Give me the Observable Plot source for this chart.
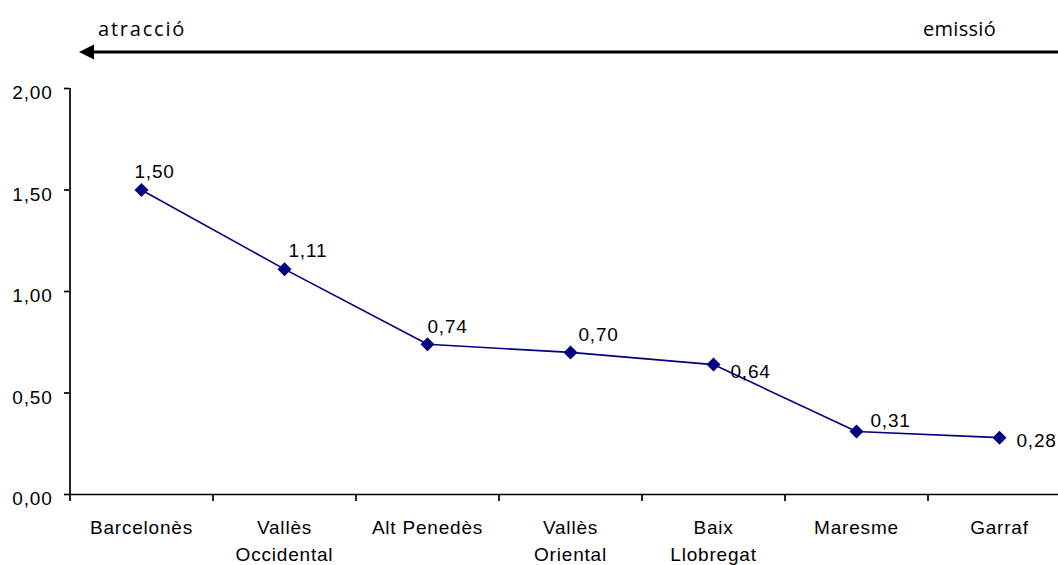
<!DOCTYPE html>
<html><head><meta charset="utf-8">
<script src="https://cdn.jsdelivr.net/npm/d3@7"></script>
<script src="https://cdn.jsdelivr.net/npm/@observablehq/plot@0.6"></script>
<style>
html,body{margin:0;padding:0;background:#fff;overflow:hidden;}
</style></head><body><div id="chart"></div>
<script>
const categories = ["Barcelonès","Vallès\nOccidental","Alt Penedès","Vallès\nOriental","Baix\nLlobregat","Maresme","Garraf"];
const values = [1.50, 1.11, 0.74, 0.70, 0.64, 0.31, 0.28];
const yTicks = [0, 0.5, 1, 1.5, 2];
const arrowLabels = ["atracció", "emissió"];
// label placement (dx, dy) per point, style only
const labelOffsets = [[-7,-12],[4,-12],[0,-11],[8,-11],[17,13],[14,-5],[17,9]];

const data = values.map((v, i) => ({i, cat: categories[i], v}));
const fmt = d => d.toFixed(2).replace(".", ",");
const font = "'Liberation Sans', Arial, sans-serif";
const navy = "#000080";

const arrowMark = (index, scales, vals, dims) => {
  const g = d3.create("svg:g");
  const y = 52;
  g.append("line").attr("x1", 90).attr("x2", dims.width + 5)
    .attr("y1", y).attr("y2", y).attr("stroke", "#000").attr("stroke-width", 3);
  g.append("path").attr("d", `M79,${y} L94,${y - 7.5} L94,${y + 7.5} Z`).attr("fill", "#000");
  const tf = g.append("g").attr("font-family", "'Open Sans', Lato, sans-serif")
    .attr("font-size", 20).attr("font-weight", 400).attr("text-anchor", "start").attr("fill", "#000");
  tf.append("text").attr("x", 98).attr("y", 36).attr("letter-spacing", "1.8px").text(arrowLabels[0]);
  tf.append("text").attr("x", 923).attr("y", 36).attr("letter-spacing", "0.3px").text(arrowLabels[1]);
  return g.node();
};

const chart = Plot.plot({
  width: 1058,
  height: 565,
  marginTop: 88,
  marginBottom: 71,
  marginLeft: 69,
  marginRight: 0,
  style: {fontFamily: font, fontSize: "19px", letterSpacing: "0.8px", color: "#000", background: "#fff"},
  x: {type: "linear", domain: [-0.5, 6.5], range: [69.5, 1070.5], axis: null},
  y: {domain: [0, 2], axis: null},
  marks: [
    arrowMark,
    Plot.axisY({ticks: yTicks, tickSize: 5, fill: "none", label: null, strokeWidth: 1.7}),
    Plot.axisX({ticks: [-0.5, 0.5, 1.5, 2.5, 3.5, 4.5, 5.5], tickSize: 7, fill: "none", label: null, strokeWidth: 1.7}),
    Plot.text(yTicks, {y: d => d, text: fmt, frameAnchor: "left", textAnchor: "end", dx: -17, dy: 4.5, fill: "#000"}),
    Plot.ruleY([0], {stroke: "#000", strokeWidth: 1.7}),
    Plot.ruleX([-0.5], {y1: 0, y2: 2, stroke: "#000", strokeWidth: 1.7}),
    Plot.text(data, {x: "i", text: "cat", frameAnchor: "bottom", lineAnchor: "top", dy: 21, lineHeight: 1.4, fill: "#000"}),
    Plot.line(data, {x: "i", y: "v", stroke: navy, strokeWidth: 1.6}),
    Plot.dot(data, {x: "i", y: "v", symbol: "diamond2", r: 6.3, fill: navy, stroke: "none"}),
    ...labelOffsets.map(([dx, dy], k) =>
      Plot.text([data[k]], {x: "i", y: "v", text: d => fmt(d.v), textAnchor: "start", lineAnchor: "bottom", dx, dy, fill: "#000"}))
  ]
});
document.getElementById("chart").appendChild(chart);
</script></body></html>
